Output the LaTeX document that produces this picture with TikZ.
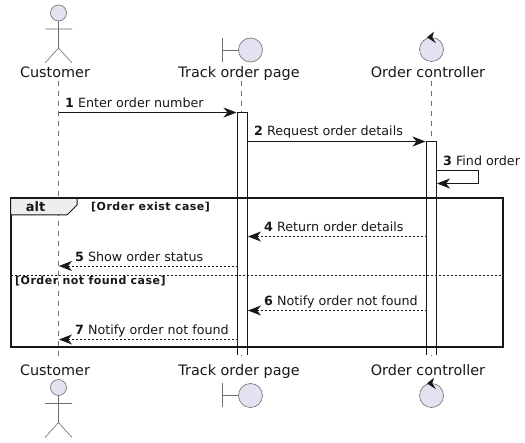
\documentclass[tikz,border=0pt]{standalone}
\usepackage{fontspec}
\setmainfont{DejaVu Sans}
\usetikzlibrary{arrows.meta}
\definecolor{actfill}{HTML}{E2E2F0}
\definecolor{actline}{HTML}{6E6E6E}
\definecolor{ink}{HTML}{181818}
\definecolor{tabfill}{HTML}{EEEEEE}
\tikzset{
  x=1pt,y=-1pt,
  actorname/.style={inner sep=0pt,anchor=base,font=\fontsize{14.4}{16}\selectfont,text=ink},
  msg/.style={inner sep=0pt,anchor=base west,font=\fontsize{12.7}{15}\selectfont,text=ink},
  guard/.style={inner sep=0pt,anchor=base west,font=\fontsize{11}{12}\bfseries\addfontfeatures{LetterSpace=4.5}\selectfont,text=ink},
  figline/.style={draw=actline,line width=0.6pt},
  headfill/.style={draw=actline,line width=0.6pt,fill=actfill},
  lifeline/.style={draw=actline,line width=0.5pt,dash pattern=on 5pt off 5pt},
  actfillbox/.style={fill=white,draw=none},
  activation/.style={draw=ink,line width=0.8pt},
  sync/.style={draw=ink,line width=0.8pt,-{Stealth[length=13pt,width=10pt,inset=4pt,color=ink]}},
  reply/.style={draw=ink,line width=0.7pt,dash pattern=on 2pt off 2pt,-{Stealth[length=13pt,width=10pt,inset=4pt,color=ink]}},
  frameline/.style={draw=ink,line width=2pt},
}
\begin{document}
\begin{tikzpicture}
\useasboundingbox (0,0) rectangle (525,443);
\fill[white] (0,0) rectangle (525,443);
% lifelines
\coordinate (c1) at (58.5,81); \coordinate (c2) at (58.5,360);
\coordinate (t1) at (241.5,81); \coordinate (t2) at (241.5,360);
\coordinate (o1) at (431.5,81); \coordinate (o2) at (431.5,360);
\draw[lifeline] (c1) -- (c2);
\draw[lifeline] (t1) -- (t2);
\draw[lifeline] (o1) -- (o2);
% names
\node[actorname] (custTop) at (55,78) {Customer};
\node[actorname] (trackTop) at (239,78) {Track order page};
\node[actorname] (ctrlTop) at (428,78) {Order controller};
\node[actorname] (custBot) at (55,376) {Customer};
\node[actorname] (trackBot) at (239,376) {Track order page};
\node[actorname] (ctrlBot) at (428,376) {Order controller};
% top actor
\draw[headfill] (58.5,13) circle (8);
\draw[figline] (58.5,21) -- (58.5,48) (45,29) -- (72,29) (45,63) -- (58.5,48) -- (72,63);
% bottom actor
\draw[headfill] (58.5,387.5) circle (8);
\draw[figline] (58.5,395.5) -- (58.5,422.5) (45,403.5) -- (72,403.5) (45,437.5) -- (58.5,422.5) -- (72,437.5);
% boundary
\draw[figline] (222,38) -- (222,62) (222,50) -- (238.5,50);
\draw[headfill] (250.5,50) circle (12);
\draw[figline] (222,383.5) -- (222,407.5) (222,395.5) -- (238.5,395.5);
\draw[headfill] (250.5,395.5) circle (12);
% control
\draw[headfill] (431.5,49.5) circle (12);
\fill[ink] (434,31.7) -- (427,37.3) -- (436,43.3) -- (432.3,37.3) -- cycle;
\draw[headfill] (431.5,395.5) circle (12);
\fill[ink] (434,377.7) -- (427,383.3) -- (436,389.3) -- (432.3,383.3) -- cycle;
% activations: open at the bottom
\path[actfillbox] (237.5,112.5) rectangle (247.5,355);
\path[actfillbox] (426.5,141.5) rectangle (436.5,355);
% frame
\draw[frameline] (10.5,198.5) rectangle (502.5,347.5);
\draw[draw=ink,line width=1pt,fill=tabfill] (10.5,198.5) -- (77,198.5) -- (77,205) -- (67,215) -- (10.5,215) -- cycle;
\node[inner sep=0pt,font=\fontsize{13}{15}\bfseries\selectfont,text=ink] (altlabel) at (35.5,207) {alt};
\node[guard] (guardA) at (91,211) {[Order exist case]};
\draw[draw=ink,line width=0.8pt,dash pattern=on 2pt off 2pt] (10.5,275) -- (502.5,275);
\node[guard] (guardB) at (15,285) {[Order not found case]};
\draw[activation] (237.5,355) -- (237.5,112.5) -- (247.5,112.5) -- (247.5,355);
\draw[activation] (426.5,355) -- (426.5,141.5) -- (436.5,141.5) -- (436.5,355);
% messages
\coordinate (m1a) at (58.5,112.5); \coordinate (m1b) at (236.5,112.5);
\draw[sync] (m1a) -- (m1b);
\node[msg] (l1) at (65,107.5) {\textbf{1} Enter order number};
\coordinate (m2a) at (247.5,141.5); \coordinate (m2b) at (425.5,141.5);
\draw[sync] (m2a) -- (m2b);
\node[msg] (l2) at (254,136) {\textbf{2} Request order details};
\coordinate (m3a) at (436.5,170.5); \coordinate (m3b) at (478.5,170.5); \coordinate (m3c) at (478.5,183.5); \coordinate (m3d) at (437,183.5);
\draw[sync] (m3a) -- (m3b) -- (m3c) -- (m3d);
\node[msg] (l3) at (443,165.5) {\textbf{3} Find order};
\coordinate (m4a) at (426.5,236.5); \coordinate (m4b) at (248,236.5);
\draw[reply] (m4a) -- (m4b);
\node[msg] (l4) at (264,232) {\textbf{4} Return order details};
\coordinate (m5a) at (237.5,266); \coordinate (m5b) at (59,266);
\draw[reply] (m5a) -- (m5b);
\node[msg] (l5) at (75,261.5) {\textbf{5} Show order status};
\coordinate (m6a) at (426.5,310.5); \coordinate (m6b) at (248,310.5);
\draw[reply] (m6a) -- (m6b);
\node[msg] (l6) at (264,306) {\textbf{6} Notify order not found};
\coordinate (m7a) at (237.5,339.5); \coordinate (m7b) at (59,339.5);
\draw[reply] (m7a) -- (m7b);
\node[msg] (l7) at (75,335) {\textbf{7} Notify order not found};
\end{tikzpicture}
\end{document}
